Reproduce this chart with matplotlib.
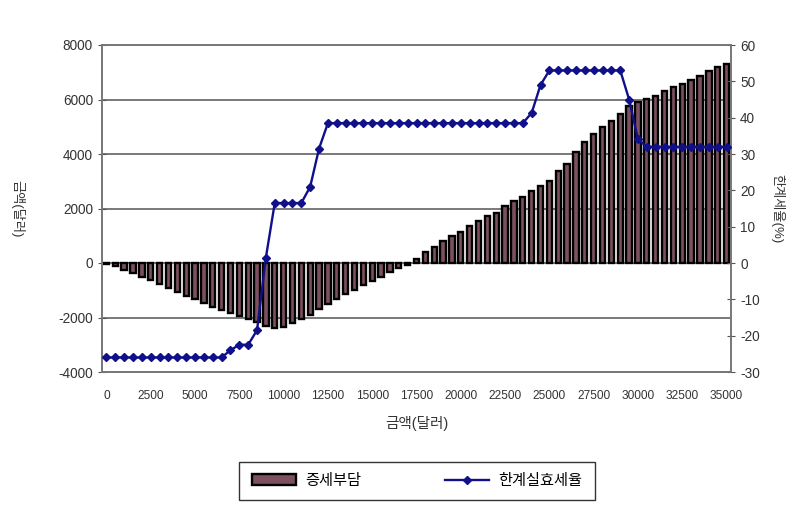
import numpy as np
import matplotlib
matplotlib.use("Agg")
import matplotlib.pyplot as plt

plt.rcParams['font.family'] = ['Liberation Sans', 'Noto Sans CJK KR', 'DejaVu Sans']

# income levels, every 500 dollars
income = list(range(0, 35001, 500))

# tax burden change (dollars)
burden = [-50, -120, -250, -380, -500, -640, -780, -920, -1060, -1200,
          -1330, -1470, -1600, -1720, -1850, -1950, -2050, -2150, -2300, -2380,
          -2350, -2200, -2050, -1900, -1700, -1500, -1330, -1150, -980, -820,
          -660, -500, -340, -200, -60, 150, 400, 600, 820, 1000,
          1150, 1350, 1550, 1720, 1850, 2080, 2280, 2420, 2640, 2830,
          3020, 3380, 3650, 4080, 4450, 4740, 5000, 5220, 5480, 5760,
          5920, 6030, 6140, 6310, 6460, 6580, 6700, 6870, 7050, 7190,
          7300]

# effective marginal tax rate (%)
rate = ([-26] * 14 + [-24, -22.5, -22.5, -18.5, 1.5, 16.5, 16.5, 16.5, 16.5, 21, 31.5]
        + [38.5] * 23 + [41.3, 49] + [53] * 9 + [45, 34] + [32] * 10)

xticks = list(range(0, 35001, 2500))
left_ticks = list(range(-4000, 8001, 2000))
right_ticks = list(range(-30, 61, 10))

fig = plt.figure(figsize=(8.03, 5.08), dpi=100)
ax = fig.add_axes([102 / 803, 1 - 372 / 508, (731 - 102) / 803, (372 - 45) / 508])
ax2 = ax.twinx()

bars = ax.bar(income, burden, width=300, color='#7c5060', edgecolor='black',
              linewidth=1.7, label='증세부담', zorder=2)
line, = ax2.plot(income, rate, color='#10108a', lw=1.7, marker='D', ms=4.3,
                 label='한계실효세율', zorder=3)

ax.set_xlim(-250, 35250)
ax.set_ylim(-4000, 8000)
ax2.set_ylim(-30, 60)
ax.set_xticks(xticks)
ax.set_xticklabels([str(v) for v in xticks], fontsize=8.6)
ax.set_yticks(left_ticks)
ax.set_yticklabels([str(v) for v in left_ticks], fontsize=9.8)
ax2.set_yticks(right_ticks)
ax2.set_yticklabels([str(v) for v in right_ticks], fontsize=9.8)
ax.tick_params(axis='x', length=0, pad=13, colors='#333333')
ax.tick_params(axis='y', direction='inout', length=6, color='#555555', labelcolor='#333333')
ax2.tick_params(axis='y', direction='inout', length=6, color='#555555', labelcolor='#333333')

ax.grid(axis='y', color='#6e6e6e', lw=1.3, zorder=1)
ax.set_axisbelow(True)
for a in (ax, ax2):
    for s in a.spines.values():
        s.set_color('#777777')
        s.set_linewidth(1.2)

ax.set_xlabel('금액(달러)', fontsize=10.5, color='#333333', labelpad=10)
ax.set_ylabel('금액(달러)', fontsize=9.5, color='#333333', rotation=270, va='bottom')
ax.yaxis.set_label_coords(-0.145, 0.5)
ax2.set_ylabel('한계세율(%)', fontsize=9.5, color='#333333', rotation=270, labelpad=18)

leg = fig.legend(handles=[bars, line], loc='center', bbox_to_anchor=(417 / 803, 1 - 481 / 508),
                 ncol=2, fontsize=11, frameon=True, fancybox=False, edgecolor='black',
                 handlelength=2.9, columnspacing=5.5, borderpad=0.8, handletextpad=0.6)
leg.get_frame().set_linewidth(1.0)

fig.savefig('out.png', dpi=100)
